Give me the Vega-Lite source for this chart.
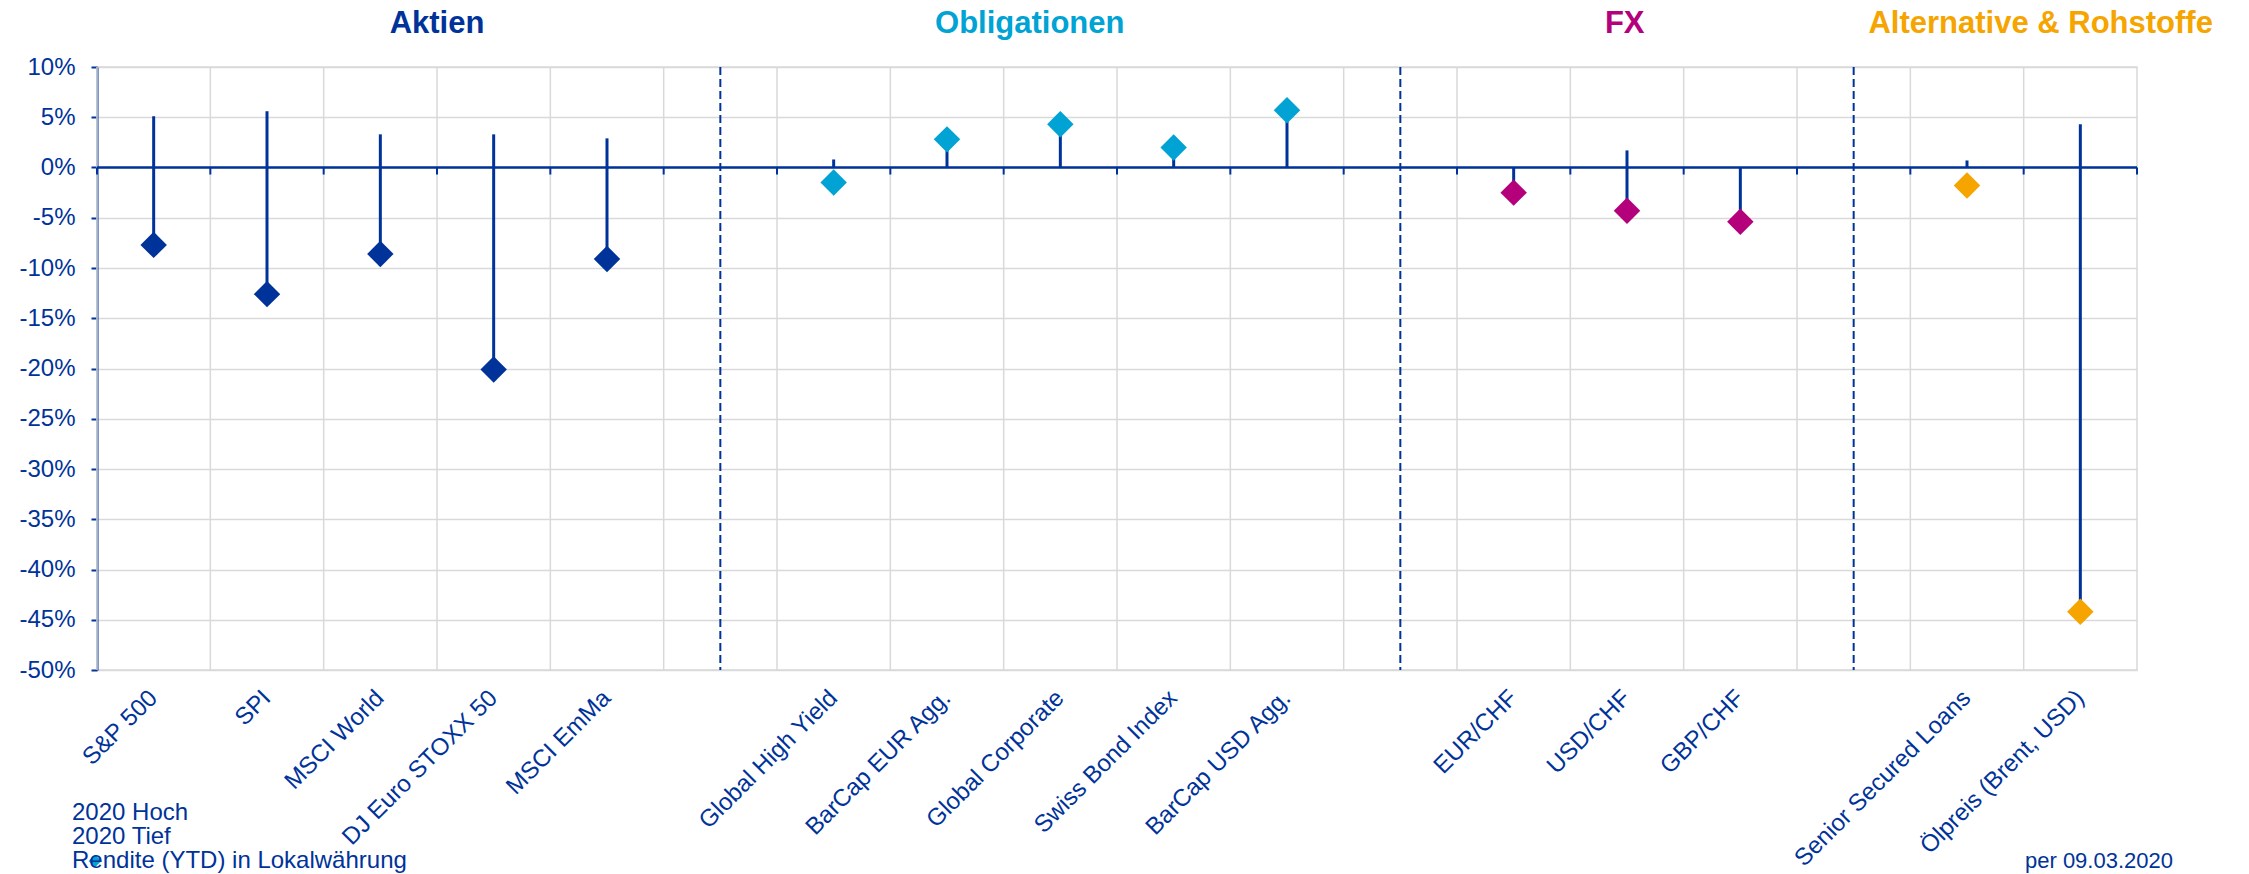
{
  "$schema": "https://vega.github.io/schema/vega-lite/v6.json",
  "width": 2040,
  "height": 603,
  "autosize": {"type": "none"},
  "padding": {"left": 97, "top": 67, "right": 112, "bottom": 204},
  "background": "white",
  "config": {
    "font": "Liberation Sans",
    "view": {"stroke": "#d9d9d9", "strokeWidth": 1.5}
  },
  "datasets": {
    "main": [
      {"cat": "S&P 500", "group": "Aktien", "high": 0.051, "low": -0.077, "ytd": -0.077},
      {"cat": "SPI", "group": "Aktien", "high": 0.056, "low": -0.126, "ytd": -0.126},
      {"cat": "MSCI World", "group": "Aktien", "high": 0.033, "low": -0.086, "ytd": -0.086},
      {"cat": "DJ Euro STOXX 50", "group": "Aktien", "high": 0.033, "low": -0.201, "ytd": -0.201},
      {"cat": "MSCI EmMa", "group": "Aktien", "high": 0.029, "low": -0.091, "ytd": -0.091},
      {"cat": "Global High Yield", "group": "Obligationen", "high": 0.008, "low": 0, "ytd": -0.015},
      {"cat": "BarCap EUR Agg.", "group": "Obligationen", "high": 0.028, "low": 0, "ytd": 0.028},
      {"cat": "Global Corporate", "group": "Obligationen", "high": 0.043, "low": 0, "ytd": 0.043},
      {"cat": "Swiss Bond Index", "group": "Obligationen", "high": 0.020, "low": 0, "ytd": 0.020},
      {"cat": "BarCap USD Agg.", "group": "Obligationen", "high": 0.057, "low": 0, "ytd": 0.057},
      {"cat": "EUR/CHF", "group": "FX", "high": 0, "low": -0.025, "ytd": -0.025},
      {"cat": "USD/CHF", "group": "FX", "high": 0.017, "low": -0.043, "ytd": -0.043},
      {"cat": "GBP/CHF", "group": "FX", "high": 0, "low": -0.054, "ytd": -0.054},
      {"cat": "Senior Secured Loans", "group": "Alternative & Rohstoffe", "high": 0.007, "low": 0, "ytd": -0.018},
      {"cat": "Ölpreis (Brent, USD)", "group": "Alternative & Rohstoffe", "high": 0.043, "low": -0.442, "ytd": -0.442}
    ],
    "cats": [
      {"cat": "S&P 500"}, {"cat": "SPI"}, {"cat": "MSCI World"}, {"cat": "DJ Euro STOXX 50"}, {"cat": "MSCI EmMa"}, {"cat": "gap1"},
      {"cat": "Global High Yield"}, {"cat": "BarCap EUR Agg."}, {"cat": "Global Corporate"}, {"cat": "Swiss Bond Index"}, {"cat": "BarCap USD Agg."}, {"cat": "gap2"},
      {"cat": "EUR/CHF"}, {"cat": "USD/CHF"}, {"cat": "GBP/CHF"}, {"cat": "gap3"},
      {"cat": "Senior Secured Loans"}, {"cat": "Ölpreis (Brent, USD)"}
    ],
    "gaps": [{"cat": "gap1"}, {"cat": "gap2"}, {"cat": "gap3"}],
    "legendrows": [
      {"series": "2020 Hoch"},
      {"series": "2020 Tief"},
      {"series": "Rendite (YTD) in Lokalwährung"}
    ],
    "titles": [
      {"cat": "DJ Euro STOXX 50", "label": "Aktien"},
      {"cat": "Global Corporate", "label": "Obligationen"},
      {"cat": "USD/CHF", "label": "FX"},
      {"cat": "Ölpreis (Brent, USD)", "label": "Alternative & Rohstoffe"}
    ],
    "note": [{"cat": "Ölpreis (Brent, USD)", "note": "per 09.03.2020"}]
  },
  "layer": [
    {
      "data": {"name": "cats"},
      "mark": {"type": "rule", "color": "#d9d9d9", "strokeWidth": 1.5},
      "encoding": {
        "x": {"field": "cat", "type": "nominal", "bandPosition": 0,
          "scale": {"domain": ["S&P 500", "SPI", "MSCI World", "DJ Euro STOXX 50", "MSCI EmMa", "gap1", "Global High Yield", "BarCap EUR Agg.", "Global Corporate", "Swiss Bond Index", "BarCap USD Agg.", "gap2", "EUR/CHF", "USD/CHF", "GBP/CHF", "gap3", "Senior Secured Loans", "Ölpreis (Brent, USD)"], "paddingInner": 0, "paddingOuter": 0}},
        "y": {"datum": 0.1, "type": "quantitative",
          "scale": {"domain": [-0.5, 0.1], "nice": false, "zero": false},
          "axis": {"title": null, "values": [-0.5, -0.45, -0.4, -0.35, -0.3, -0.25, -0.2, -0.15, -0.1, -0.05, 0, 0.05, 0.1],
            "labelExpr": "round(datum.value * 100) + '%'", "labelColor": "#003399", "labelFontSize": 24, "labelPadding": 16,
            "domainColor": "#003399", "domainWidth": 2, "tickColor": "#003399", "tickWidth": 2, "tickSize": 6,
            "grid": true, "gridColor": "#d9d9d9", "gridWidth": 1.5}},
        "y2": {"datum": -0.5}
      }
    },
    {
      "data": {"name": "gaps"},
      "mark": {"type": "rule", "color": "#003399", "strokeWidth": 2, "strokeDash": [8, 4]},
      "encoding": {
        "x": {"field": "cat", "type": "nominal"},
        "y": {"datum": 0.1, "type": "quantitative"},
        "y2": {"datum": -0.5}
      }
    },
    {
      "data": {"values": [{}]},
      "mark": {"type": "rule", "color": "#003399", "strokeWidth": 2.5},
      "encoding": {
        "y": {"datum": 0, "type": "quantitative"}
      }
    },
    {
      "data": {"name": "cats"},
      "mark": {"type": "rule", "color": "#003399", "strokeWidth": 2},
      "encoding": {
        "x": {"field": "cat", "type": "nominal", "bandPosition": 0},
        "y": {"datum": 0, "type": "quantitative"},
        "y2": {"datum": -0.007}
      }
    },
    {
      "data": {"values": [{}]},
      "mark": {"type": "rule", "color": "#003399", "strokeWidth": 2},
      "encoding": {
        "x": {"datum": "Ölpreis (Brent, USD)", "type": "nominal", "bandPosition": 1},
        "y": {"datum": 0, "type": "quantitative"},
        "y2": {"datum": -0.007}
      }
    },
    {
      "data": {"name": "main"},
      "mark": {"type": "rule", "color": "#003399", "strokeWidth": 3},
      "encoding": {
        "x": {"field": "cat", "type": "nominal",
          "axis": {"title": null, "orient": "bottom", "domain": false, "ticks": false, "grid": false,
            "labelAngle": -45, "labelAlign": "right", "labelBaseline": "middle", "labelFontSize": 24,
            "labelColor": "#003399", "labelPadding": 24, "labelOverlap": false, "labelLimit": 0,
            "labelExpr": "indexof(datum.value, 'gap') == 0 ? '' : datum.label"}},
        "y": {"field": "low", "type": "quantitative"},
        "y2": {"field": "high"}
      }
    },
    {
      "data": {"name": "main"},
      "mark": {"type": "point", "filled": true, "opacity": 1, "size": 700, "strokeWidth": 0, "shape": "diamond"},
      "encoding": {
        "x": {"field": "cat", "type": "nominal"},
        "y": {"field": "ytd", "type": "quantitative"},
        "fill": {"field": "group", "type": "nominal",
          "scale": {"domain": ["Aktien", "Obligationen", "FX", "Alternative & Rohstoffe"], "range": ["#003399", "#00a3d4", "#b5007b", "#f5a400"]},
          "legend": null}
      }
    },
    {
      "data": {"name": "legendrows"},
      "mark": {"type": "point", "filled": true, "opacity": 0, "size": 160, "shape": "diamond"},
      "encoding": {
        "x": {"datum": "S&P 500", "type": "nominal"},
        "y": {"datum": 0, "type": "quantitative"},
        "stroke": {"field": "series", "type": "nominal",
          "scale": {"domain": ["2020 Hoch", "2020 Tief", "Rendite (YTD) in Lokalwährung"], "range": ["#ffffff", "#ffffff", "#00a3d4"]},
          "legend": {"title": null, "orient": "none", "legendX": -14, "legendY": 734, "padding": 0,
            "symbolType": "diamond", "symbolSize": 160, "symbolOpacity": 1, "symbolStrokeWidth": 0,
            "labelFontSize": 24, "labelColor": "#003399", "labelOffset": -35, "rowPadding": 0, "labelLimit": 0}},
        "fill": {"field": "series", "type": "nominal",
          "scale": {"domain": ["2020 Hoch", "2020 Tief", "Rendite (YTD) in Lokalwährung"], "range": ["#ffffff", "#ffffff", "#00a3d4"]}}
      }
    },
    {
      "data": {"name": "titles"},
      "transform": [{"filter": "datum.label == 'Aktien'"}],
      "mark": {"type": "text", "fontSize": 31, "fontWeight": "bold", "color": "#003399", "align": "center", "baseline": "middle"},
      "encoding": {
        "x": {"field": "cat", "type": "nominal", "bandPosition": 0},
        "y": {"datum": 0.143, "type": "quantitative"},
        "text": {"field": "label"}
      }
    },
    {
      "data": {"name": "titles"},
      "transform": [{"filter": "datum.label == 'Obligationen'"}],
      "mark": {"type": "text", "fontSize": 31, "fontWeight": "bold", "color": "#00a3d4", "align": "center", "baseline": "middle"},
      "encoding": {
        "x": {"field": "cat", "type": "nominal", "bandPosition": 0.23},
        "y": {"datum": 0.143, "type": "quantitative"},
        "text": {"field": "label"}
      }
    },
    {
      "data": {"name": "titles"},
      "transform": [{"filter": "datum.label == 'FX'"}],
      "mark": {"type": "text", "fontSize": 31, "fontWeight": "bold", "color": "#b5007b", "align": "center", "baseline": "middle"},
      "encoding": {
        "x": {"field": "cat", "type": "nominal", "bandPosition": 0.48},
        "y": {"datum": 0.143, "type": "quantitative"},
        "text": {"field": "label"}
      }
    },
    {
      "data": {"name": "titles"},
      "transform": [{"filter": "datum.label == 'Alternative & Rohstoffe'"}],
      "mark": {"type": "text", "fontSize": 31, "fontWeight": "bold", "color": "#f5a400", "align": "center", "baseline": "middle"},
      "encoding": {
        "x": {"field": "cat", "type": "nominal", "bandPosition": 0.15},
        "y": {"datum": 0.143, "type": "quantitative"},
        "text": {"field": "label"}
      }
    },
    {
      "data": {"name": "note"},
      "mark": {"type": "text", "fontSize": 22, "color": "#003399", "align": "right", "baseline": "middle", "dx": 36},
      "encoding": {
        "x": {"field": "cat", "type": "nominal", "bandPosition": 1},
        "y": {"datum": -0.69, "type": "quantitative"},
        "text": {"field": "note"}
      }
    }
  ],
  "resolve": {"scale": {"fill": "independent", "stroke": "independent"}}
}
